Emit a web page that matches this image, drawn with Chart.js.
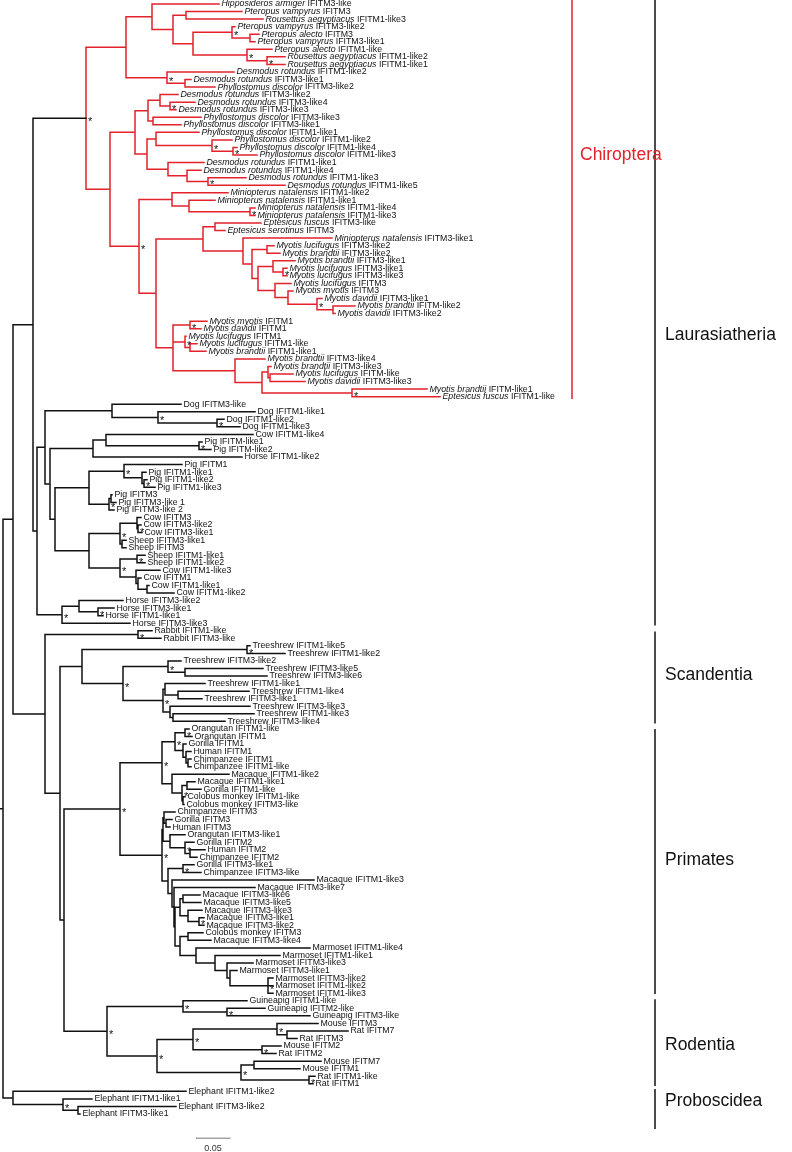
<!DOCTYPE html>
<html lang="en">
<head>
<meta charset="UTF-8">
<title>IFITM gene tree</title>
<script src="https://cdn.jsdelivr.net/npm/chart.js@4.4.0"></script>
<style>
  body { margin: 0; background: #fff; }
  #wrap { width: 792px; height: 1152px; }
</style>
</head>
<body>
<div id="wrap"><canvas id="tree" width="792" height="1152"></canvas></div>
<script>
// leaves top to bottom: [species, gene, tip depth]  (depth: 34 units = 0.05 subs/site)
const batLeaves = [
  ['Hipposideros armiger', 'IFITM3-like', 219],
  ['Pteropus vampyrus', 'IFITM3', 242],
  ['Rousettus aegyptiacus', 'IFITM1-like3', 263],
  ['Pteropus vampyrus', 'IFITM3-like2', 235],
  ['Pteropus alecto', 'IFITM3', 259],
  ['Pteropus vampyrus', 'IFITM3-like1', 255],
  ['Pteropus alecto', 'IFITM1-like', 272],
  ['Rousettus aegyptiacus', 'IFITM1-like2', 285],
  ['Rousettus aegyptiacus', 'IFITM1-like1', 285],
  ['Desmodus rotundus', 'IFITM1-like2', 234],
  ['Desmodus rotundus', 'IFITM3-like1', 191],
  ['Phyllostomus discolor', 'IFITM3-like2', 215],
  ['Desmodus rotundus', 'IFITM3-like2', 178],
  ['Desmodus rotundus', 'IFITM3-like4', 195],
  ['Desmodus rotundus', 'IFITM3-like3', 176],
  ['Phyllostomus discolor', 'IFITM3-like3', 201],
  ['Phyllostomus discolor', 'IFITM3-like1', 181],
  ['Phyllostomus discolor', 'IFITM1-like1', 199],
  ['Phyllostomus discolor', 'IFITM1-like2', 232],
  ['Phyllostomus discolor', 'IFITM1-like4', 237],
  ['Phyllostomus discolor', 'IFITM1-like3', 257],
  ['Desmodus rotundus', 'IFITM1-like1', 204],
  ['Desmodus rotundus', 'IFITM1-like4', 201],
  ['Desmodus rotundus', 'IFITM1-like3', 246],
  ['Desmodus rotundus', 'IFITM1-like5', 285],
  ['Miniopterus natalensis', 'IFITM1-like2', 228],
  ['Miniopterus natalensis', 'IFITM1-like1', 215],
  ['Miniopterus natalensis', 'IFITM1-like4', 255],
  ['Miniopterus natalensis', 'IFITM1-like3', 255],
  ['Eptesicus fuscus', 'IFITM3-like', 261],
  ['Eptesicus serotinus', 'IFITM3', 225],
  ['Miniopterus natalensis', 'IFITM3-like1', 332],
  ['Myotis lucifugus', 'IFITM3-like2', 274],
  ['Myotis brandtii', 'IFITM3-like2', 280],
  ['Myotis brandtii', 'IFITM3-like1', 295],
  ['Myotis lucifugus', 'IFITM3-like1', 287],
  ['Myotis lucifugus', 'IFITM3-like3', 287],
  ['Myotis lucifugus', 'IFITM3', 291],
  ['Myotis myotis', 'IFITM3', 293],
  ['Myotis davidii', 'IFITM3-like1', 322],
  ['Myotis brandtii', 'IFITM-like2', 355],
  ['Myotis davidii', 'IFITM3-like2', 335],
  ['Myotis myotis', 'IFITM1', 207],
  ['Myotis davidii', 'IFITM1', 201],
  ['Myotis lucifugus', 'IFITM1', 186],
  ['Myotis lucifugus', 'IFITM1-like', 197],
  ['Myotis brandtii', 'IFITM1-like1', 206],
  ['Myotis brandtii', 'IFITM3-like4', 265],
  ['Myotis brandtii', 'IFITM3-like3', 271],
  ['Myotis lucifugus', 'IFITM-like', 293],
  ['Myotis davidii', 'IFITM3-like3', 305],
  ['Myotis brandtii', 'IFITM-like1', 427],
  ['Eptesicus fuscus', 'IFITM1-like', 440]
];

const laurasiaLeaves = [
  ['Dog', 'IFITM3-like', 181], ['Dog', 'IFITM1-like1', 255], ['Dog', 'IFITM1-like2', 224],
  ['Dog', 'IFITM1-like3', 240], ['Cow', 'IFITM1-like4', 253], ['Pig', 'IFITM-like1', 202],
  ['Pig', 'IFITM-like2', 211], ['Horse', 'IFITM1-like2', 242], ['Pig', 'IFITM1', 182],
  ['Pig', 'IFITM1-like1', 146], ['Pig', 'IFITM1-like2', 147], ['Pig', 'IFITM1-like3', 155],
  ['Pig', 'IFITM3', 112], ['Pig', 'IFITM3-like 1', 116], ['Pig', 'IFITM3-like 2', 114],
  ['Cow', 'IFITM3', 141], ['Cow', 'IFITM3-like2', 141], ['Cow', 'IFITM3-like1', 142],
  ['Sheep', 'IFITM3-like1', 126], ['Sheep', 'IFITM3', 126], ['Sheep', 'IFITM1-like1', 145],
  ['Sheep', 'IFITM1-like2', 145], ['Cow', 'IFITM1-like3', 160], ['Cow', 'IFITM1', 141],
  ['Cow', 'IFITM1-like1', 149], ['Cow', 'IFITM1-like2', 174], ['Horse', 'IFITM3-like2', 123],
  ['Horse', 'IFITM3-like1', 114], ['Horse', 'IFITM1-like1', 103], ['Horse', 'IFITM3-like3', 130]
];

const gliresLeaves = [
  ['Rabbit', 'IFITM1-like', 152], ['Rabbit', 'IFITM3-like', 161],
  ['Treeshrew', 'IFITM1-like5', 250], ['Treeshrew', 'IFITM1-like2', 285],
  ['Treeshrew', 'IFITM3-like2', 181], ['Treeshrew', 'IFITM3-like5', 263],
  ['Treeshrew', 'IFITM3-like6', 267], ['Treeshrew', 'IFITM1-like1', 205],
  ['Treeshrew', 'IFITM1-like4', 249], ['Treeshrew', 'IFITM3-like1', 202],
  ['Treeshrew', 'IFITM3-like3', 250], ['Treeshrew', 'IFITM1-like3', 254],
  ['Treeshrew', 'IFITM3-like4', 225]
];

const primateLeaves = [
  ['Orangutan', 'IFITM1-like', 189], ['Orangutan', 'IFITM1', 192], ['Gorilla', 'IFITM1', 186],
  ['Human', 'IFITM1', 191], ['Chimpanzee', 'IFITM1', 191], ['Chimpanzee', 'IFITM1-like', 191],
  ['Macaque', 'IFITM1-like2', 229], ['Macaque', 'IFITM1-like1', 195], ['Gorilla', 'IFITM1-like', 201],
  ['Colobus monkey', 'IFITM1-like', 185], ['Colobus monkey', 'IFITM3-like', 184],
  ['Chimpanzee', 'IFITM3', 175], ['Gorilla', 'IFITM3', 172], ['Human', 'IFITM3', 170],
  ['Orangutan', 'IFITM3-like1', 185], ['Gorilla', 'IFITM2', 194], ['Human', 'IFITM2', 205],
  ['Chimpanzee', 'IFITM2', 197], ['Gorilla', 'IFITM3-like1', 194], ['Chimpanzee', 'IFITM3-like', 201],
  ['Macaque', 'IFITM1-like3', 314], ['Macaque', 'IFITM3-like7', 255], ['Macaque', 'IFITM3-like6', 200],
  ['Macaque', 'IFITM3-like5', 201], ['Macaque', 'IFITM3-like3', 202], ['Macaque', 'IFITM3-like1', 204],
  ['Macaque', 'IFITM3-like2', 204], ['Colobus monkey', 'IFITM3', 203], ['Macaque', 'IFITM3-like4', 211],
  ['Marmoset', 'IFITM1-like4', 310], ['Marmoset', 'IFITM1-like1', 280], ['Marmoset', 'IFITM3-like3', 253],
  ['Marmoset', 'IFITM3-like1', 237], ['Marmoset', 'IFITM3-like2', 273], ['Marmoset', 'IFITM1-like2', 273],
  ['Marmoset', 'IFITM1-like3', 273]
];

const rodentLeaves = [
  ['Guineapig', 'IFITM1-like', 247], ['Guineapig', 'IFITM2-like', 265], ['Guineapig', 'IFITM3-like', 310],
  ['Mouse', 'IFITM3', 318], ['Rat', 'IFITM7', 348], ['Rat', 'IFITM3', 297],
  ['Mouse', 'IFITM2', 281], ['Rat', 'IFITM2', 276], ['Mouse', 'IFITM7', 321],
  ['Mouse', 'IFITM1', 300], ['Rat', 'IFITM1-like', 315], ['Rat', 'IFITM1', 313]
];

const elephantLeaves = [
  ['Elephant', 'IFITM1-like2', 186], ['Elephant', 'IFITM1-like1', 92],
  ['Elephant', 'IFITM3-like2', 176], ['Elephant', 'IFITM3-like1', 80]
];

// topology: leaf numbers (1-based, top to bottom), "(...)depth", "*" = supported node
const pteropodTree = '((1,((2,3)186,((4,(5,6)250)232*,(7,(8,9)267*)247*)193)173)152,(10,(11,12)185)167*)126';
const phyllostomidTree = '(((13,(14,15)170*)160,(16,17)153)148,((18,(19,(20,21)233*)212*)156,(22,(23,(24,25)208*)187)168)147)135';
const vesperTree3 = '((30,31)215,(32,((33,34)267,((35,(36,37)283*)273,(38,(39,(40,(41,42)333)317*)288)275)258)252)243)203';
const vesperTree1 = '((43,44)190*,(45,(46,47)190)185*,(48,((49,(50,51)270)268,(52,53)352*)262)235)173';
const chiropteraTree = `(${pteropodTree},(${phyllostomidTree},((26,(27,(28,29)250*)189)172,(${vesperTree3},${vesperTree1})156)139*)110)86*`;

const dogTree = '(54,(55,(56,57)217*)158*)112';
const cowPigTree = '((58,(59,60)199*)106,61)93';
const pigTree = '((62,(63,(64,65)144*)142)124*,((66,67)111,68)109*)89';
const ruminantTree = '(((69,(70,71)138*)137,(72,73)122)120*,((74,75)137*,(76,(77,(78,79)147)138)136)120*)89';
const horseTree = '((80,(81,82)98*)79,83)62*';
const laurasiaTree = `((${dogTree},(${cowPigTree},(${pigTree},${ruminantTree})55)50)45,${horseTree})37`;

const rabbitTree = '(84,85)138*';
const scandentiaTree = '((86,87)247*,((88,(89,90)185)168*,((91,(92,93)178)165,(94,(95,96)173)170)163*)123*)82';

const hominoid1Tree = '(((97,98)185*,(99,(100,(101,102)188)186)183)175*,(103,((104,105)187,(106,107)183)182*)172)162*';
const hominoid3Tree = '((108,(109,110)166)164,(111,(112,(113,114)190)185*)170)163';
const marmosetTree = '(126,(127,(128,(129,(130,131,132)268*)230)227)215)196';
const monkeyTree = `(117,(118,(((119,120)183,(121,(122,123)199*)188)180,((124,125)188,${marmosetTree})180)175)174)172`;
const primatesTree = `(${hominoid1Tree},(${hominoid3Tree},((115,116)183*,${monkeyTree})168)162*)120*`;

const rodentiaTree = '((133,(134,135)227*)183*,(((136,(137,138)287)277*,(139,140)262*)193*,((141,142)254,(143,144)309*)241*)157*)107*';
const proboscideaTree = '(145,(146,(147,148)78)63*)13';

const fullTree = `(((${chiropteraTree},${laurasiaTree})33,(${rabbitTree},(${scandentiaTree},(${primatesTree},${rodentiaTree})64)60)45)13,${proboscideaTree})3`;

// clade brackets, in leaf-row units
const cladeNames = ['Chiroptera', 'Laurasiatheria', 'Scandentia', 'Primates', 'Rodentia', 'Proboscidea'];
const cladeFrom = [-0.5, -0.5, 83.2, 96.1, 131.9, 143.8];
const cladeTo = [52.2, 82.2, 95.2, 131.0, 143.2, 148.9];
const cladeLabelRow = [20.0, 43.8, 88.9, 113.4, 137.9, 145.3];

const scaleBarValue = 0.05;
const depthPerSub = 680;

// ---- layout / style ----
const INK = '#111';
const BAT_RED = '#e3222b';
const FONT = '"Liberation Sans", Arial, sans-serif';
const BAT_BAR_X = 572;
const CLADE_BAR_X = 655;
const SCALE_BAR_X = 196;
const SCALE_BAR_ROW = 150.2;

const leaves = [...batLeaves, ...laurasiaLeaves, ...gliresLeaves, ...primateLeaves, ...rodentLeaves, ...elephantLeaves];

function parseTree(src) {
  const s = src.replace(/\s+/g, '');
  let i = 0;
  function node() {
    if (s[i] === '(') {
      i++;
      const kids = [node()];
      while (s[i] === ',') { i++; kids.push(node()); }
      i++;
      const m = /^([\d.]+)(\*?)/.exec(s.slice(i));
      i += m[0].length;
      return { kids, depth: +m[1], star: m[2] === '*' };
    }
    const m = /^\d+/.exec(s.slice(i));
    i += m[0].length;
    return { leaf: +m[0] - 1 };
  }
  return node();
}

const root = parseTree(fullTree);
const nodes = [];

function place(n, parent) {
  n.parent = parent;
  nodes.push(n);
  if (n.kids === undefined) {
    n.x = leaves[n.leaf][2];
    n.y = n.leaf;
    n.last = n.leaf;
    return;
  }
  n.x = n.depth;
  n.kids.forEach(k => place(k, n));
  n.y = (n.kids[0].y + n.kids[n.kids.length - 1].y) / 2;
  n.last = n.kids[n.kids.length - 1].last;
}
place(root, null);

const isBat = n => n.last < batLeaves.length;

const blackSegs = [];
const redSegs = [];
function seg(arr, x1, y1, x2, y2) {
  arr.push({ x: x1, y: y1 }, { x: x2, y: y2 }, { x: null, y: null });
}
nodes.forEach(n => {
  const px = n.parent ? n.parent.x : 0;
  seg(n.parent && isBat(n.parent) ? redSegs : blackSegs, px, n.y, n.x, n.y);
  if (n.kids) {
    seg(isBat(n) ? redSegs : blackSegs, n.x, n.kids[0].y, n.x, n.kids[n.kids.length - 1].y);
  }
});

const barSegs = [];
const batBarSegs = [];
cladeNames.forEach((c, i) => {
  if (i === 0) seg(batBarSegs, BAT_BAR_X, cladeFrom[i], BAT_BAR_X, cladeTo[i]);
  else seg(barSegs, CLADE_BAR_X, cladeFrom[i], CLADE_BAR_X, cladeTo[i]);
});

const scaleSegs = [];
seg(scaleSegs, SCALE_BAR_X, SCALE_BAR_ROW, SCALE_BAR_X + scaleBarValue * depthPerSub, SCALE_BAR_ROW);

const labelPlugin = {
  id: 'treeLabels',
  afterDatasetsDraw(chart) {
    const { ctx, scales: { x, y } } = chart;
    ctx.save();
    ctx.textBaseline = 'middle';
    ctx.textAlign = 'left';
    ctx.fillStyle = INK;
    leaves.forEach((row, i) => {
      let px = x.getPixelForValue(row[2]) + 2.5;
      const py = y.getPixelForValue(i);
      ctx.font = (i < batLeaves.length ? 'italic ' : '') + '8.8px ' + FONT;
      ctx.fillText(row[0], px, py);
      px += ctx.measureText(row[0] + ' ').width;
      ctx.font = '8.8px ' + FONT;
      ctx.fillText(row[1], px, py);
    });

    ctx.textBaseline = 'alphabetic';
    ctx.font = '11px ' + FONT;
    nodes.filter(n => n.star).forEach(n => {
      ctx.fillText('*', x.getPixelForValue(n.x) + 2, y.getPixelForValue(n.y) + 7);
    });

    ctx.textBaseline = 'middle';
    ctx.font = '17.5px ' + FONT;
    cladeNames.forEach((c, i) => {
      ctx.fillStyle = i === 0 ? BAT_RED : INK;
      const bx = x.getPixelForValue(i === 0 ? BAT_BAR_X : CLADE_BAR_X);
      ctx.fillText(c, bx + (i === 0 ? 8 : 10), y.getPixelForValue(cladeLabelRow[i]));
    });

    ctx.fillStyle = '#333';
    ctx.font = '9px ' + FONT;
    ctx.textAlign = 'center';
    ctx.fillText(String(scaleBarValue), x.getPixelForValue(SCALE_BAR_X + scaleBarValue * depthPerSub / 2), y.getPixelForValue(SCALE_BAR_ROW) + 10);
    ctx.restore();
  }
};

const lineSet = (data, color, width) => ({
  data, borderColor: color, borderWidth: width, showLine: true, spanGaps: false,
  pointRadius: 0, borderCapStyle: 'square', tension: 0
});

new Chart(document.getElementById('tree'), {
  type: 'scatter',
  data: {
    datasets: [
      lineSet(blackSegs, INK, 1.5),
      lineSet(redSegs, BAT_RED, 1.5),
      lineSet(barSegs, INK, 1.5),
      lineSet(batBarSegs, BAT_RED, 1.5),
      lineSet(scaleSegs, '#777', 1)
    ]
  },
  options: {
    responsive: false,
    animation: false,
    devicePixelRatio: 1,
    events: [],
    layout: { padding: 0 },
    plugins: { legend: { display: false }, tooltip: { enabled: false } },
    scales: {
      x: { type: 'linear', min: 0, max: 792, display: false },
      y: { type: 'linear', min: -0.53, max: 152.03, reverse: true, display: false }
    }
  },
  plugins: [labelPlugin]
});
</script>
</body>
</html>
